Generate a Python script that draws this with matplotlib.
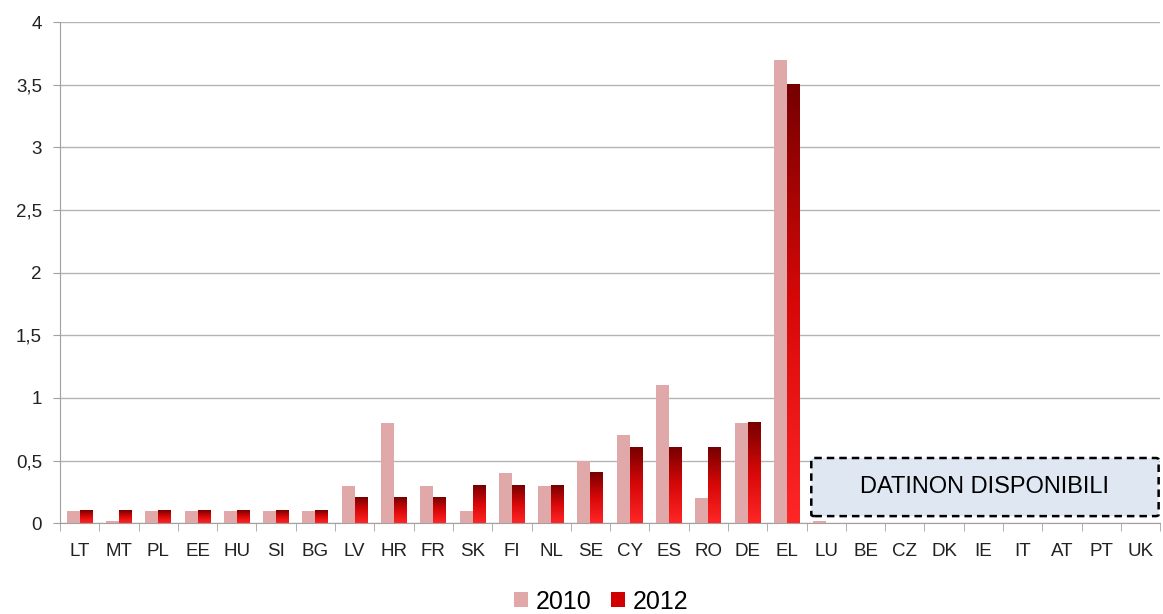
import numpy as np
import matplotlib
matplotlib.use("Agg")
import matplotlib.pyplot as plt
from matplotlib.colors import LinearSegmentedColormap
from matplotlib.patches import FancyBboxPatch, Patch
from matplotlib.ticker import FuncFormatter

plt.rcParams['font.family'] = ['Liberation Sans', 'DejaVu Sans']

countries = ["LT", "MT", "PL", "EE", "HU", "SI", "BG", "LV", "HR", "FR", "SK", "FI", "NL", "SE",
             "CY", "ES", "RO", "DE", "EL", "LU", "BE", "CZ", "DK", "IE", "IT", "AT", "PT", "UK"]
v2010 = [0.1, 0.02, 0.1, 0.1, 0.1, 0.1, 0.1, 0.3, 0.8, 0.3, 0.1, 0.4, 0.3, 0.5,
         0.7, 1.1, 0.2, 0.8, 3.7, 0.02, np.nan, np.nan, np.nan, np.nan, np.nan, np.nan, np.nan, np.nan]
v2012 = [0.1, 0.1, 0.1, 0.1, 0.1, 0.1, 0.1, 0.2, 0.2, 0.2, 0.3, 0.3, 0.3, 0.4,
         0.6, 0.6, 0.6, 0.8, 3.5, np.nan, np.nan, np.nan, np.nan, np.nan, np.nan, np.nan, np.nan, np.nan]
series_labels = ["2010", "2012"]
yticks = [0, 0.5, 1, 1.5, 2, 2.5, 3, 3.5, 4]
na_text = "DATINON DISPONIBILI"

c2010 = "#e0a8a8"
cmap = LinearSegmentedColormap.from_list("redgrad", ["#ff2626", "#d80808", "#760000"])

fig = plt.figure(figsize=(11.63, 6.14), dpi=100)
ax = fig.add_axes([0.0516, 0.148, 0.946, 0.816])

x = np.arange(len(countries))
w = 0.33
ax.bar(x - w / 2, v2010, width=w, color=c2010, zorder=3, label=series_labels[0])
bars12 = ax.bar(x + w / 2, v2012, width=w, color="none", zorder=3)
grad = np.linspace(0, 1, 256).reshape(-1, 1)
for b, v in zip(bars12, v2012):
    if np.isnan(v):
        continue
    x0 = b.get_x()
    ax.imshow(grad, extent=[x0, x0 + w, 0, v], origin="lower", cmap=cmap,
              aspect="auto", zorder=3, interpolation="bilinear")

ax.set_xlim(-0.5, len(countries) - 0.5)
ax.set_ylim(0, 4)
ax.set_yticks(yticks)
ax.yaxis.set_major_formatter(FuncFormatter(lambda v, p: ("%g" % v).replace(".", ",")))
ax.grid(axis="y", color="#b4b4b4", linewidth=1, zorder=0)
ax.set_axisbelow(True)
for s in ["top", "right"]:
    ax.spines[s].set_visible(False)
ax.spines["left"].set_color("#a0a0a0")
ax.spines["bottom"].set_color("#a0a0a0")
ax.set_xticks(x)
ax.set_xticklabels(countries, fontsize=13.5, color="#222222")
ax.tick_params(axis="x", length=0, pad=14)
ax.set_xticks(np.arange(-0.5, len(countries), 1), minor=True)
ax.tick_params(axis="x", which="minor", length=6, color="#a0a0a0", direction="out")
ax.tick_params(axis="y", labelsize=13.5, labelcolor="#222222", length=5, color="#a0a0a0", pad=8)

# placeholder box for unavailable data
box = FancyBboxPatch((18.62, 0.056), 8.84, 0.464, boxstyle="round,pad=0,rounding_size=0.08",
                     facecolor="#dfe7f2", edgecolor="black", linestyle=(0, (3, 2)),
                     linewidth=1.8, zorder=4, mutation_aspect=0.15)
ax.add_patch(box)
ax.text(18.62 + 8.84 / 2, 0.056 + 0.464 / 2, na_text, ha="center", va="center",
        fontsize=17, color="black", zorder=5)

# legend
h1 = Patch(facecolor=c2010)
h2 = Patch(facecolor="#d00000")
ax.legend([h1, h2], series_labels, loc="center", bbox_to_anchor=(0.492, -0.157),
          ncol=2, frameon=False, fontsize=18, handlelength=0.55, handleheight=0.55,
          handletextpad=0.3, columnspacing=0.8, borderpad=0.1)

fig.savefig("out.png", dpi=100)
